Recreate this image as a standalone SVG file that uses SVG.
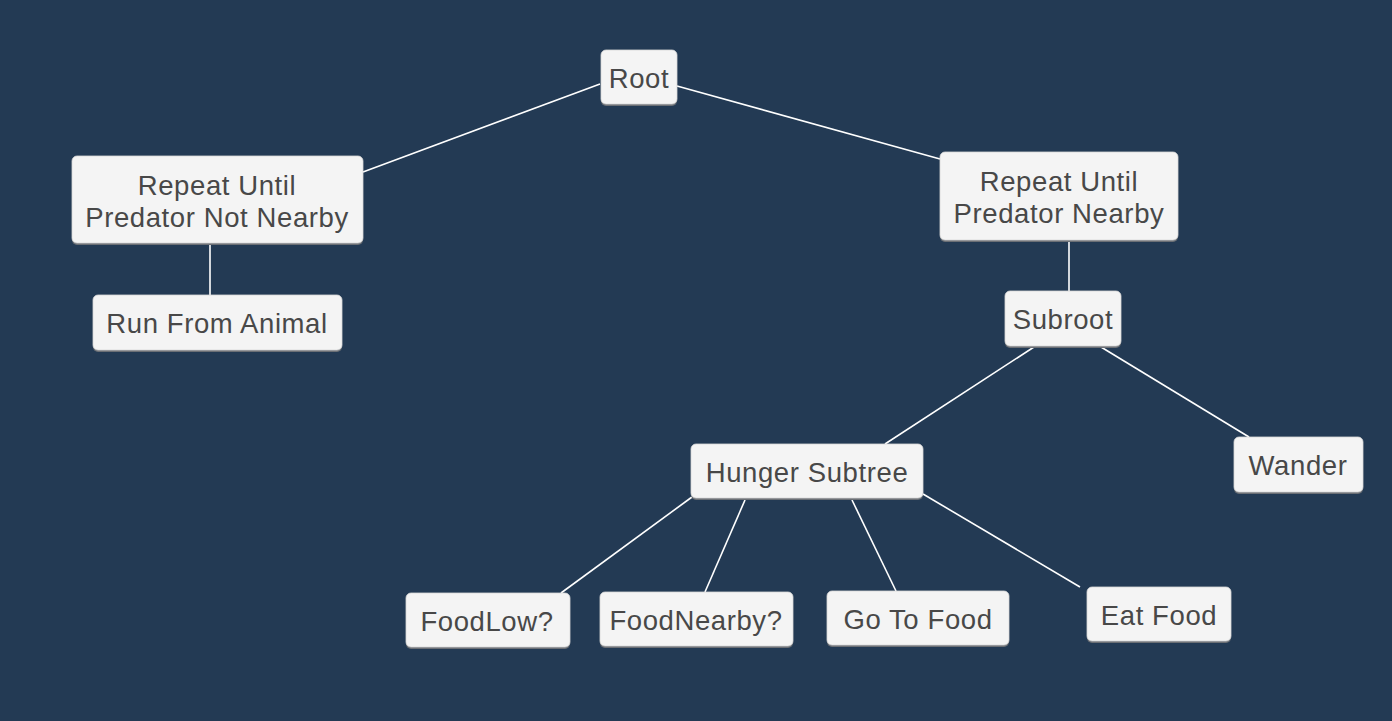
<svg xmlns="http://www.w3.org/2000/svg" width="1392" height="721" viewBox="0 0 1392 721">
<style>
.bg{fill:#233a54}
.sh{fill:#6b6f75}
.box{fill:#f4f4f4;stroke:#d8d8d8;stroke-width:0.8}
.t{font-family:"Liberation Sans",Arial,sans-serif;font-size:27.5px;fill:#484848;text-anchor:middle;letter-spacing:0.6px}
.e{stroke:#ffffff;stroke-width:1.6;fill:none}
</style>
<rect class="bg" x="0" y="0" width="1392" height="721"/>
<g id="connectors">
<line class="e" x1="600" y1="84" x2="363" y2="172"/>
<line class="e" x1="677" y1="86" x2="940" y2="159"/>
<line class="e" x1="210" y1="244" x2="210" y2="295"/>
<line class="e" x1="1069" y1="241" x2="1069" y2="291"/>
<line class="e" x1="1034" y1="347" x2="885" y2="444"/>
<line class="e" x1="1101" y1="347" x2="1249" y2="437"/>
<line class="e" x1="692" y1="497" x2="561" y2="593"/>
<line class="e" x1="745" y1="500" x2="705" y2="592"/>
<line class="e" x1="852" y1="500" x2="896" y2="591"/>
<line class="e" x1="923" y1="494" x2="1080" y2="587"/>
</g>
<g id="root">
<rect class="sh" x="601" y="51" width="76" height="55" rx="5"/>
<rect class="box" x="601" y="50" width="76" height="54" rx="5"/>
<text class="t" x="639" y="88">Root</text>
</g>
<g id="repeat-not-nearby">
<rect class="sh" x="72" y="157" width="291" height="88" rx="5"/>
<rect class="box" x="72" y="156" width="291" height="87" rx="5"/>
<text class="t" x="217" y="195">Repeat Until</text>
<text class="t" x="217" y="227">Predator Not Nearby</text>
</g>
<g id="run-from-animal">
<rect class="sh" x="93" y="296" width="249" height="56" rx="5"/>
<rect class="box" x="93" y="295" width="249" height="55" rx="5"/>
<text class="t" x="217" y="333">Run From Animal</text>
</g>
<g id="repeat-nearby">
<rect class="sh" x="940" y="153" width="238" height="89" rx="5"/>
<rect class="box" x="940" y="152" width="238" height="88" rx="5"/>
<text class="t" x="1059" y="191">Repeat Until</text>
<text class="t" x="1059" y="223">Predator Nearby</text>
</g>
<g id="subroot">
<rect class="sh" x="1005" y="292" width="116" height="56" rx="5"/>
<rect class="box" x="1005" y="291" width="116" height="55" rx="5"/>
<text class="t" x="1063" y="329">Subroot</text>
</g>
<g id="hunger-subtree">
<rect class="sh" x="691" y="445" width="232" height="55" rx="5"/>
<rect class="box" x="691" y="444" width="232" height="54" rx="5"/>
<text class="t" x="807" y="482">Hunger Subtree</text>
</g>
<g id="wander">
<rect class="sh" x="1234" y="438" width="129" height="56" rx="5"/>
<rect class="box" x="1234" y="437" width="129" height="55" rx="5"/>
<text class="t" x="1298" y="475">Wander</text>
</g>
<g id="foodlow">
<rect class="sh" x="406" y="594" width="164" height="55" rx="5"/>
<rect class="box" x="406" y="593" width="164" height="54" rx="5"/>
<text class="t" x="487" y="631">FoodLow?</text>
</g>
<g id="foodnearby">
<rect class="sh" x="600" y="593" width="193" height="55" rx="5"/>
<rect class="box" x="600" y="592" width="193" height="54" rx="5"/>
<text class="t" x="696" y="630">FoodNearby?</text>
</g>
<g id="go-to-food">
<rect class="sh" x="827" y="592" width="182" height="55" rx="5"/>
<rect class="box" x="827" y="591" width="182" height="54" rx="5"/>
<text class="t" x="918" y="629">Go To Food</text>
</g>
<g id="eat-food">
<rect class="sh" x="1087" y="588" width="144" height="55" rx="5"/>
<rect class="box" x="1087" y="587" width="144" height="54" rx="5"/>
<text class="t" x="1159" y="625">Eat Food</text>
</g>
</svg>
